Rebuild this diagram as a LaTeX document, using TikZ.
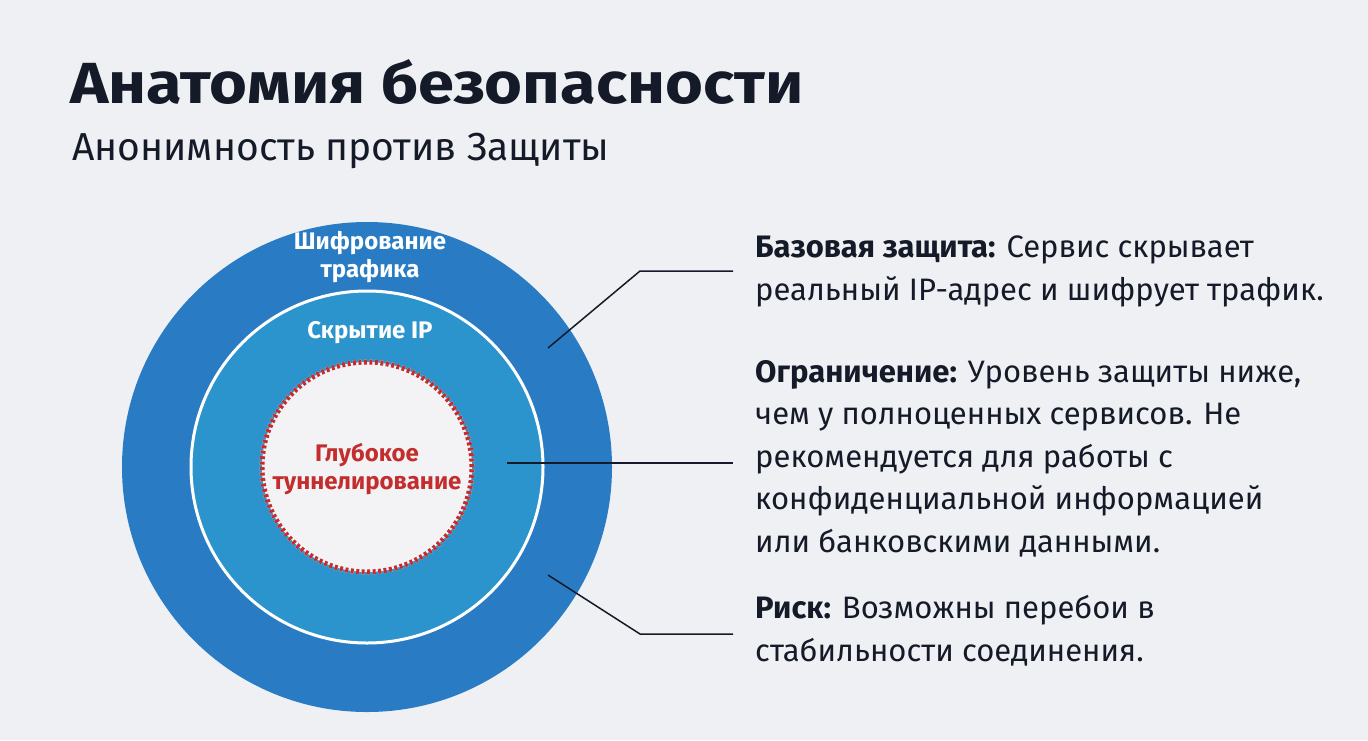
\documentclass[tikz,border=0pt]{standalone}
\usepackage{fontspec}
\setmainfont{Fira Sans}
\newfontfamily\headfont[FakeStretch=1.12]{Fira Sans}
\usetikzlibrary{positioning}

\definecolor{bgc}{RGB}{239,240,243}
\definecolor{ink}{RGB}{20,26,40}
\definecolor{outerblue}{RGB}{41,124,196}
\definecolor{innerblue}{RGB}{44,148,205}
\definecolor{corefill}{RGB}{243,243,245}
\definecolor{alert}{RGB}{196,45,45}

\begin{document}
\begin{tikzpicture}[x=1pt, y=-1pt,
    ttl/.style={anchor=base west, inner sep=0pt, text=ink, font=\headfont\fontsize{58}{66}\selectfont\bfseries},
    sub/.style={anchor=base west, inner sep=0pt, text=ink, font=\fontsize{39}{46}\selectfont},
    ring/.style={circle, inner sep=0pt},
    lbl/.style={align=center, inner sep=0pt, text=white, font=\fontsize{24}{28}\selectfont\bfseries},
    note/.style={anchor=base west, align=left, inner sep=0pt, text=ink, font=\fontsize{31}{42.5}\selectfont},
    lead/.style={draw=ink, line width=1.5pt}]
    \fill [bgc] (0,0) rectangle (1368,740);
    \node [ttl] (title) at (70,103) {Анатомия безопасности};
    \node [sub] (subtitle) at (72,160) {Анонимность против Защиты};
    % rings
    \node [ring, fill=outerblue, minimum size=490pt] (outer) at (367,467) {};
    \node [ring, fill=innerblue, draw=white, line width=3pt, minimum size=352pt] (mid) at (367,467) {};
    \node [ring, fill=corefill, preaction={draw=white, line width=5pt}, draw=alert, line width=5pt, dash pattern=on 3pt off 2.5pt, minimum size=210pt] (core) at (367,467) {};
    \node [lbl] (enc) at (370,257) {Шифрование\\трафика};
    \node [lbl] (hide) at (370,333) {Скрытие IP};
    \node [lbl, text=alert] (deep) at (367,469) {Глубокое\\туннелирование};
    % notes
    \node [note] (basic) at (755,300) {\textbf{Базовая защита:} Сервис скрывает\\реальный IP-адрес и шифрует трафик.};
    \node [note] (limit) at (755,552) {\textbf{Ограничение:} Уровень защиты ниже,\\чем у полноценных сервисов. Не\\рекомендуется для работы с\\конфиденциальной информацией\\или банковскими данными.};
    \node [note] (risk) at (755,661) {\textbf{Риск:} Возможны перебои в\\стабильности соединения.};
    % leaders
    \coordinate (a1) at (548,348);
    \coordinate (b1) at (640,271);
    \coordinate (c1) at (733,271);
    \coordinate (a2) at (507,463);
    \coordinate (c2) at (733,463);
    \coordinate (a3) at (548,575);
    \coordinate (b3) at (640,634);
    \coordinate (c3) at (733,634);
    \draw [lead] (a1) -- (b1) -- (c1);
    \draw [lead] (a2) -- (c2);
    \draw [lead] (a3) -- (b3) -- (c3);
\end{tikzpicture}
\end{document}
